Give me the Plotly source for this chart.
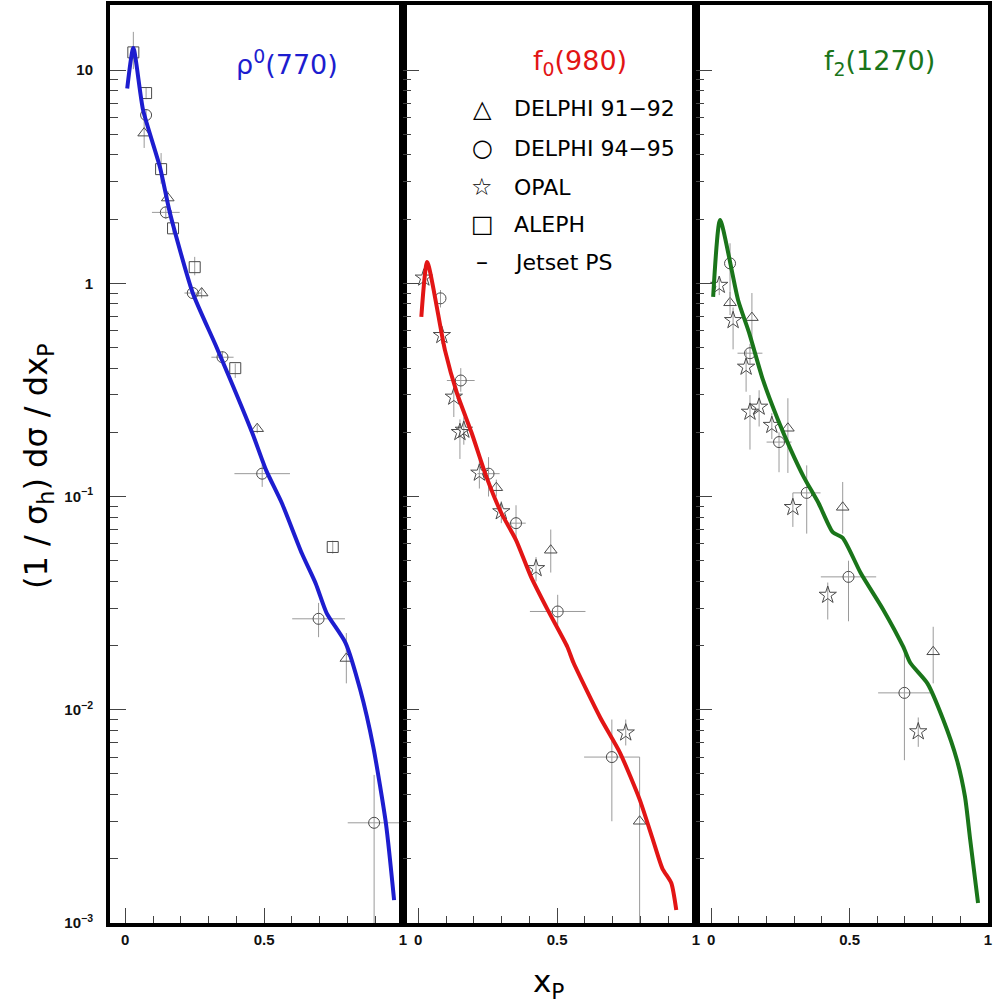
import plotly.graph_objects as go

# ---------------- data ----------------
PANEL_LABELS = ["ρ<sup>0</sup>(770)", "f<sub>0</sub>(980)", "f<sub>2</sub>(1270)"]
PANEL_COLORS = ["#1d1dcf", "#e21515", "#1a751a"]

Y_TICKVALS = [1e-3, 1e-2, 1e-1, 1, 10]
Y_TICKTEXT = ["10<sup>−3</sup>", "10<sup>−2</sup>", "10<sup>−1</sup>", "1", "10"]
X_TICKVALS = [0, 0.5, 1]
X_TICKTEXT = ["0", "0.5", "1"]

LEGEND_SYMBOLS = ["△", "○", "☆", "□", "–"]
LEGEND_LABELS = ["DELPHI 91−92", "DELPHI 94−95", "OPAL", "ALEPH", "Jetset PS"]

# Jetset PS curves
RHO_MC_X = [0.007, 0.029, 0.064, 0.125, 0.161, 0.243, 0.329, 0.457, 0.507, 0.564, 0.636, 0.686, 0.725, 0.793, 0.846, 0.893, 0.939, 0.968]
RHO_MC_Y = [8.2, 12.7, 6.5, 3.5, 2.13, 0.90, 0.50, 0.199, 0.133, 0.093, 0.054, 0.039, 0.0284, 0.0206, 0.0124, 0.0067, 0.0029, 0.00128]
F0_MC_X = [0.011, 0.032, 0.096, 0.139, 0.192, 0.246, 0.299, 0.352, 0.406, 0.466, 0.537, 0.559, 0.655, 0.726, 0.797, 0.843, 0.879, 0.911, 0.929]
F0_MC_Y = [0.695, 1.26, 0.486, 0.306, 0.199, 0.123, 0.0837, 0.0625, 0.042, 0.0294, 0.0197, 0.0166, 0.0092, 0.0063, 0.0038, 0.0025, 0.0018, 0.00154, 0.00115]
F2_MC_X = [0.007, 0.032, 0.097, 0.137, 0.187, 0.241, 0.288, 0.335, 0.388, 0.439, 0.475, 0.54, 0.622, 0.694, 0.719, 0.781, 0.838, 0.888, 0.917, 0.935, 0.964]
F2_MC_Y = [0.863, 1.98, 0.835, 0.585, 0.352, 0.229, 0.165, 0.123, 0.093, 0.068, 0.064, 0.0438, 0.0294, 0.0197, 0.0166, 0.0133, 0.0090, 0.0058, 0.0039, 0.0025, 0.00124]

# rho0(770)
RHO_D92_X = [0.068, 0.153, 0.275, 0.475, 0.796]
RHO_D92_Y = [5.06, 2.51, 0.90, 0.208, 0.0174]
RHO_D92_EX = [0, 0, 0, 0, 0]
RHO_D92_EYU = [0.8, 0.2, 0.05, 0.01, 0.0055]
RHO_D92_EYD = [0.75, 0.2, 0.05, 0.01, 0.0041]

RHO_D95_X = [0.075, 0.146, 0.243, 0.35, 0.493, 0.696, 0.896]
RHO_D95_Y = [6.15, 2.15, 0.90, 0.45, 0.128, 0.0267, 0.00295]
RHO_D95_EX = [0.0, 0.05, 0.03, 0.04, 0.1, 0.095, 0.095]
RHO_D95_EYU = [0.4, 0.15, 0.05, 0.03, 0.013, 0.005, 0.002]
RHO_D95_EYD = [0.4, 0.15, 0.05, 0.03, 0.017, 0.0048, 0.0029]

RHO_AL_X = [0.029, 0.075, 0.129, 0.172, 0.25, 0.396, 0.747]
RHO_AL_Y = [12.1, 7.8, 3.43, 1.81, 1.19, 0.40, 0.058]
RHO_AL_EX = [0, 0, 0, 0, 0, 0, 0]
RHO_AL_EYU = [3.0, 0.5, 0.65, 0.1, 0.14, 0.02, 0.004]
RHO_AL_EYD = [2.0, 0.5, 0.5, 0.1, 0.1, 0.04, 0.004]

# f0(980)
F0_D92_X = [0.281, 0.477, 0.797]
F0_D92_Y = [0.11, 0.056, 0.003]
F0_D92_EX = [0, 0, 0]
F0_D92_EYU = [0.01, 0.014, 0.003]
F0_D92_EYD = [0.01, 0.012, 0.003]

F0_D95_X = [0.08, 0.153, 0.253, 0.352, 0.502, 0.697]
F0_D95_Y = [0.85, 0.35, 0.128, 0.075, 0.0289, 0.006]
F0_D95_EX = [0, 0.05, 0.04, 0.035, 0.1, 0.1]
F0_D95_EYU = [0.08, 0.05, 0.025, 0.016, 0.0057, 0.003]
F0_D95_EYD = [0.08, 0.04, 0.028, 0.012, 0.004, 0.003]

F0_OP_X = [0.02, 0.085, 0.128, 0.15, 0.164, 0.22, 0.299, 0.424, 0.747]
F0_OP_Y = [1.06, 0.57, 0.293, 0.20, 0.205, 0.129, 0.085, 0.046, 0.0078]
F0_OP_EX = [0, 0, 0, 0, 0, 0, 0, 0, 0]
F0_OP_EYU = [0.1, 0.05, 0.05, 0.03, 0.03, 0.02, 0.01, 0.006, 0.0012]
F0_OP_EYD = [0.1, 0.05, 0.057, 0.05, 0.03, 0.02, 0.01, 0.006, 0.001]

# f2(1270)
F2_D92_X = [0.068, 0.147, 0.277, 0.475, 0.802]
F2_D92_Y = [0.81, 0.69, 0.209, 0.089, 0.0187]
F2_D92_EX = [0, 0, 0, 0, 0]
F2_D92_EYU = [0.1, 0.21, 0.08, 0.028, 0.0058]
F2_D92_EYD = [0.1, 0.15, 0.08, 0.022, 0.0054]

F2_D95_X = [0.068, 0.14, 0.245, 0.345, 0.496, 0.698]
F2_D95_Y = [1.24, 0.47, 0.18, 0.104, 0.042, 0.012]
F2_D95_EX = [0, 0.045, 0.045, 0.05, 0.1, 0.095]
F2_D95_EYU = [0.3, 0.05, 0.02, 0.036, 0.008, 0.0065]
F2_D95_EYD = [0.45, 0.05, 0.05, 0.037, 0.016, 0.0062]

F2_OP_X = [0.029, 0.079, 0.126, 0.14, 0.173, 0.219, 0.295, 0.421, 0.748]
F2_OP_Y = [0.98, 0.67, 0.405, 0.249, 0.263, 0.216, 0.089, 0.0345, 0.0079]
F2_OP_EX = [0, 0, 0, 0, 0, 0, 0, 0, 0]
F2_OP_EYU = [0.1, 0.1, 0.08, 0.05, 0.052, 0.03, 0.015, 0.005, 0.0013]
F2_OP_EYD = [0.1, 0.18, 0.095, 0.083, 0.05, 0.03, 0.017, 0.008, 0.0012]

# ---------------- figure ----------------
fig = go.Figure()
SYM = {"d92": "triangle-up-open", "d95": "circle-open", "op": "star-open", "al": "square-open"}
ERRC = "#9a9a9a"
MARKC = "#4a4a4a"
SANS = "Liberation Sans, Arial, sans-serif"
DEJ = "DejaVu Sans, sans-serif"


def add_pts(k, x, y, ex, eyu, eyd, sym):
    xa = "x" if k == 1 else f"x{k}"
    ya = "y" if k == 1 else f"y{k}"
    fig.add_trace(go.Scatter(
        x=x, y=y, mode="markers", xaxis=xa, yaxis=ya, showlegend=False,
        marker=dict(symbol=SYM[sym], size=11 if sym != "op" else 13,
                    color=MARKC, line=dict(width=1, color=MARKC)),
        error_x=dict(type="data", array=ex, color=ERRC, thickness=1, width=0),
        error_y=dict(type="data", array=eyu, arrayminus=eyd, symmetric=False,
                     color=ERRC, thickness=1, width=0),
    ))


def add_curve(k, x, y, color):
    xa = "x" if k == 1 else f"x{k}"
    ya = "y" if k == 1 else f"y{k}"
    fig.add_trace(go.Scatter(x=x, y=y, mode="lines", xaxis=xa, yaxis=ya,
                             showlegend=False,
                             line=dict(color=color, width=4, shape="spline", smoothing=0.6)))


add_pts(1, RHO_D92_X, RHO_D92_Y, RHO_D92_EX, RHO_D92_EYU, RHO_D92_EYD, "d92")
add_pts(1, RHO_D95_X, RHO_D95_Y, RHO_D95_EX, RHO_D95_EYU, RHO_D95_EYD, "d95")
add_pts(1, RHO_AL_X, RHO_AL_Y, RHO_AL_EX, RHO_AL_EYU, RHO_AL_EYD, "al")
add_pts(2, F0_D92_X, F0_D92_Y, F0_D92_EX, F0_D92_EYU, F0_D92_EYD, "d92")
add_pts(2, F0_D95_X, F0_D95_Y, F0_D95_EX, F0_D95_EYU, F0_D95_EYD, "d95")
add_pts(2, F0_OP_X, F0_OP_Y, F0_OP_EX, F0_OP_EYU, F0_OP_EYD, "op")
add_pts(3, F2_D92_X, F2_D92_Y, F2_D92_EX, F2_D92_EYU, F2_D92_EYD, "d92")
add_pts(3, F2_D95_X, F2_D95_Y, F2_D95_EX, F2_D95_EYU, F2_D95_EYD, "d95")
add_pts(3, F2_OP_X, F2_OP_Y, F2_OP_EX, F2_OP_EYU, F2_OP_EYD, "op")

add_curve(1, RHO_MC_X, RHO_MC_Y, PANEL_COLORS[0])
add_curve(2, F0_MC_X, F0_MC_Y, PANEL_COLORS[1])
add_curve(3, F2_MC_X, F2_MC_Y, PANEL_COLORS[2])

W, H = 996, 1003
L, R, T, B = 110, 8, 5, 80
PW = W - L - R
PH = H - T - B
doms = [[0, 293 / PW], [293 / PW, 586 / PW], [586 / PW, 1]]
TICKFONT = dict(family=SANS, size=15, color="#111111", weight="bold")

layout = dict(
    width=W, height=H, margin=dict(l=L, r=R, t=T, b=B, autoexpand=False),
    paper_bgcolor="white", plot_bgcolor="white",
    font=dict(family=SANS),
)
for k in (1, 2, 3):
    xs = "xaxis" if k == 1 else f"xaxis{k}"
    ys = "yaxis" if k == 1 else f"yaxis{k}"
    layout[xs] = dict(
        domain=doms[k - 1], range=[-0.055, 1.0], anchor="y" if k == 1 else f"y{k}",
        automargin=False,
        showgrid=False, zeroline=False, showline=True, linewidth=4, linecolor="black",
        mirror=True, ticks="inside", ticklen=15, tickwidth=1.3, tickcolor="#444",
        tickvals=X_TICKVALS, ticktext=X_TICKTEXT, tickfont=TICKFONT,
        minor=dict(ticks="inside", ticklen=7, tickwidth=1.3, tickcolor="#444", dtick=0.1, tick0=0),
    )
    layout[ys] = dict(
        type="log", range=[-3, 1.305], anchor="x" if k == 1 else f"x{k}",
        automargin=False,
        showgrid=False, zeroline=False, showline=True, linewidth=4, linecolor="black",
        mirror=True, ticks="inside", ticklen=16, tickwidth=1.3, tickcolor="#444",
        tickvals=Y_TICKVALS, ticktext=Y_TICKTEXT, tickfont=TICKFONT,
        showticklabels=(k == 1), ticklabelstandoff=10,
        minor=dict(ticks="inside", ticklen=8, tickwidth=1.3, tickcolor="#444", dtick="D1"),
    )
    if k > 1:
        layout[ys]["matches"] = "y"
fig.update_layout(**layout)


def px_x(p):
    return (p - L) / PW


def px_y(p):
    return (H - B - p) / PH


anns = []
# panel labels
label_px = [287, 580, 879]
for i in range(3):
    anns.append(dict(x=px_x(label_px[i]), y=px_y(63), xref="paper", yref="paper",
                     xanchor="center", yanchor="middle",
                     text=PANEL_LABELS[i], showarrow=False,
                     font=dict(size=27, color=PANEL_COLORS[i], family=DEJ)))
# legend
leg_rows = [109, 148, 187, 224, 262]
for i in range(5):
    yp = px_y(leg_rows[i])
    anns.append(dict(x=px_x(482), y=yp, xref="paper", yref="paper", text=LEGEND_SYMBOLS[i],
                     showarrow=False, xanchor="center", yanchor="middle",
                     font=dict(size=24, color="black", family=DEJ)))
    anns.append(dict(x=px_x(512), y=yp, xref="paper", yref="paper", text=LEGEND_LABELS[i],
                     showarrow=False, xanchor="left", yanchor="middle",
                     font=dict(size=22, color="black", family=DEJ)))
# axis titles
anns.append(dict(x=px_x(38), y=px_y(466), xref="paper", yref="paper",
                 xanchor="center", yanchor="middle",
                 text="(1 / σ<sub>h</sub>) dσ / dx<sub>P</sub>", textangle=-90, showarrow=False,
                 font=dict(size=32, color="black", family=DEJ)))
anns.append(dict(x=px_x(548), y=px_y(983), xref="paper", yref="paper",
                 xanchor="center", yanchor="middle",
                 text="x<sub>P</sub>", showarrow=False,
                 font=dict(size=31, color="black", family=DEJ)))
fig.update_layout(annotations=anns)

fig.write_html("out.html", config={"displayModeBar": False},
               post_script="document.body.style.margin='0';")
